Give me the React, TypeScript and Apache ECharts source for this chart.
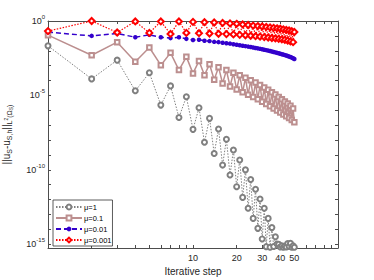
import React, { useEffect, useRef } from 'react';
import * as echarts from 'echarts';

// Iteration steps
const steps = [1, 2, 3, 4, 5, 6, 7, 8, 9, 10, 11, 12, 13, 14, 15, 16, 17, 18, 19, 20, 21, 22, 23, 24, 25,
  26, 27, 28, 29, 30, 31, 32, 33, 34, 35, 36, 37, 38, 39, 40, 41, 42, 43, 44, 45, 46, 47, 48, 49, 50];

// Errors, given as base-10 exponents (error = 10^e)
const expMu1 = [-1.67, -3.89, -2.63, -4.69, -3.48, -5.65, -4.36, -6.48, -5.09, -7.28,
  -5.83, -8.15, -6.54, -8.9, -7.26, -9.68, -7.95, -10.35, -8.67, -11.13,
  -9.34, -11.85, -10.0, -12.58, -10.65, -13.26, -11.3, -13.93, -11.96, -14.64,
  -12.58, -15.16, -13.26, -15.2, -13.88, -15.15, -14.5, -14.98, -15.0, -15.18,
  -15.1, -15.2, -15.12, -15.18, -14.95, -15.15, -14.93, -15.2, -15.1, -15.2];
const expMu01 = [-0.95, -2.3, -1.42, -2.74, -1.78, -2.97, -2.14, -3.3, -2.41, -3.52,
  -2.68, -3.64, -2.9, -3.95, -3.1, -4.2, -3.3, -4.4, -3.48, -4.6,
  -3.65, -4.78, -3.82, -4.95, -3.98, -5.1, -4.14, -5.26, -4.3, -5.42,
  -4.46, -5.58, -4.62, -5.73, -4.78, -5.88, -4.94, -6.02, -5.1, -6.15,
  -5.25, -6.28, -5.4, -6.4, -5.55, -6.52, -5.7, -6.65, -5.87, -6.8];
const expMu001 = [-0.75, -1.0, -0.84, -1.09, -0.93, -1.09, -1.15, -1.09, -1.2, -1.28,
  -1.26, -1.33, -1.35, -1.4, -1.42, -1.46, -1.49, -1.52, -1.56, -1.6,
  -1.63, -1.66, -1.69, -1.72, -1.75, -1.78, -1.81, -1.84, -1.87, -1.9,
  -1.93, -1.96, -1.99, -2.02, -2.05, -2.08, -2.11, -2.14, -2.17, -2.2,
  -2.23, -2.26, -2.29, -2.32, -2.35, -2.39, -2.42, -2.46, -2.5, -2.55];
const expMu0001 = [-0.68, 0, -0.77, -0.03, -0.8, -0.03, -0.87, -0.03, -0.8, -0.06,
  -0.82, -0.08, -0.84, -0.1, -0.86, -0.13, -0.88, -0.16, -0.9, -0.19,
  -0.93, -0.23, -0.96, -0.27, -0.99, -0.31, -1.02, -0.34, -1.05, -0.37,
  -1.08, -0.4, -1.11, -0.43, -1.14, -0.46, -1.17, -0.49, -1.2, -0.52,
  -1.23, -0.56, -1.27, -0.6, -1.32, -0.64, -1.37, -0.69, -1.42, -0.74];

const seriesNames = ['\u03bc=1', '\u03bc=0.1', '\u03bc=0.01', '\u03bc=0.001'];

// Axis ticks / labels
const xTickValues = [1, 2, 3, 4, 5, 6, 7, 8, 9, 10, 20, 30, 40, 50, 60, 70, 80, 90, 100];
const xLabelValues = [10, 20, 30, 40, 50];
const yTickExps = [0, -1, -2, -3, -4, -5, -6, -7, -8, -9, -10, -11, -12, -13, -14, -15];
const yLabelExps = [0, -5, -10, -15];
const X_MIN = 1;
const X_MAX = 100;
const Y_MIN_EXP = -15.25;
const Y_MAX_EXP = 0;

const FONT = 'Liberation Sans, Arial, sans-serif';
const AXIS_COLOR = '#4d4d4d';
const TEXT_COLOR = '#262626';

const lg = (v: number) => Math.log10(v);

export default function App() {
  const ref = useRef<HTMLDivElement>(null);
  useEffect(() => {
    if (!ref.current) return;
    const chart = echarts.init(ref.current, undefined, { renderer: 'svg' });
    const toData = (exps: number[]) => steps.map((s, i) => [lg(s), exps[i]]);

    const xCommon = {
      type: 'value' as const,
      min: lg(X_MIN),
      max: lg(X_MAX),
      splitLine: { show: false },
      axisLine: { show: true, onZero: false, lineStyle: { color: AXIS_COLOR, width: 1 } },
      axisTick: {
        show: true,
        inside: true,
        length: 3,
        customValues: xTickValues.map(lg),
        lineStyle: { color: AXIS_COLOR, width: 1 },
      },
    };
    const yCommon = {
      type: 'value' as const,
      min: Y_MIN_EXP,
      max: Y_MAX_EXP,
      splitLine: { show: false },
      axisLine: { show: true, onZero: false, lineStyle: { color: AXIS_COLOR, width: 1 } },
      axisTick: {
        show: true,
        inside: true,
        length: 3,
        customValues: yTickExps,
        lineStyle: { color: AXIS_COLOR, width: 1 },
      },
    };

    chart.setOption({
      animation: false,
      backgroundColor: '#ffffff',
      grid: { left: 48, right: 36, top: 21, bottom: 32, containLabel: false, outerBoundsMode: 'none' },
      xAxis: [
        {
          ...xCommon,
          position: 'bottom',
          name: 'Iterative step',
          nameLocation: 'middle',
          nameGap: 17,
          nameTextStyle: { fontFamily: FONT, fontSize: 10, color: TEXT_COLOR },
          axisLabel: {
            show: true,
            customValues: xLabelValues.map(lg),
            formatter: (v: number) => String(Math.round(Math.pow(10, v))),
            fontFamily: FONT,
            fontSize: 9,
            color: TEXT_COLOR,
            margin: 5,
          },
        },
        {
          ...xCommon,
          position: 'top',
          axisLabel: { show: false },
        },
      ],
      yAxis: [
        {
          ...yCommon,
          position: 'left',
          name: '||u{s|S}-u{s|S,h}||{s|L}{sp|2}{s|(\u03a9}{ss|S}{s|)}',
          nameLocation: 'middle',
          nameRotate: 90,
          nameGap: 35,
          nameMoveOverlap: false,
          nameTextStyle: {
            fontFamily: FONT,
            fontSize: 10,
            color: TEXT_COLOR,
            lineHeight: 14,
            rich: {
              s: { fontFamily: FONT, fontSize: 7, color: TEXT_COLOR, verticalAlign: 'bottom' },
              sp: { fontFamily: FONT, fontSize: 5, color: TEXT_COLOR, verticalAlign: 'middle' },
              ss: { fontFamily: FONT, fontSize: 5, color: TEXT_COLOR, verticalAlign: 'bottom' },
            },
          },
          axisLabel: {
            show: true,
            customValues: yLabelExps,
            formatter: (v: number) => '10{sup|' + String(v) + '}',
            fontFamily: FONT,
            fontSize: 9,
            color: TEXT_COLOR,
            lineHeight: 14,
            margin: 3,
            rich: {
              sup: { fontFamily: FONT, fontSize: 6, color: TEXT_COLOR, verticalAlign: 'top' },
            },
          },
        },
        {
          ...yCommon,
          position: 'right',
          axisLabel: { show: false },
        },
      ],
      legend: {
        show: true,
        orient: 'vertical',
        left: 53,
        top: 200,
        padding: [2, 1, 1, 2],
        itemGap: 1,
        itemWidth: 26,
        itemHeight: 6,
        borderColor: '#333333',
        borderWidth: 0.8,
        borderRadius: 0,
        backgroundColor: '#ffffff',
        textStyle: { fontFamily: FONT, fontSize: 7.5, color: '#000000', lineHeight: 10, padding: [0, 0, 0, -3] },
        data: seriesNames,
      },
      series: [
        {
          name: seriesNames[0],
          type: 'line',
          data: toData(expMu1),
          symbol: 'emptyCircle',
          symbolSize: 5,
          color: '#808080',
          itemStyle: { color: '#808080', borderColor: '#808080', borderWidth: 1.2 },
          lineStyle: { color: '#808080', width: 1, type: [1.5, 1.5] },
          silent: true,
        },
        {
          name: seriesNames[1],
          type: 'line',
          data: toData(expMu01),
          symbol: 'emptyRect',
          symbolSize: 4.5,
          color: '#bc8f8f',
          itemStyle: { color: '#bc8f8f', borderColor: '#bc8f8f', borderWidth: 1.2 },
          lineStyle: { color: '#bc8f8f', width: 1.5, type: 'solid' },
          silent: true,
        },
        {
          name: seriesNames[2],
          type: 'line',
          data: toData(expMu001),
          symbol: 'circle',
          symbolSize: 4.5,
          color: '#3300cc',
          itemStyle: { color: '#3300cc' },
          lineStyle: { color: '#3300cc', width: 1.5, type: [5, 3] },
          silent: true,
        },
        {
          name: seriesNames[3],
          type: 'line',
          data: toData(expMu0001),
          symbol: 'emptyDiamond',
          symbolSize: 6,
          color: '#ff0000',
          itemStyle: { color: '#ff0000', borderColor: '#ff0000', borderWidth: 1.5 },
          lineStyle: { color: '#ff0000', width: 1.2, type: [1.5, 1.5] },
          silent: true,
        },
      ],
    });
    return () => chart.dispose();
  }, []);
  return (
    <div
      ref={ref}
      style={{ position: 'fixed', left: 0, top: 0, width: 374, height: 280, background: '#fff' }}
    />
  );
}
